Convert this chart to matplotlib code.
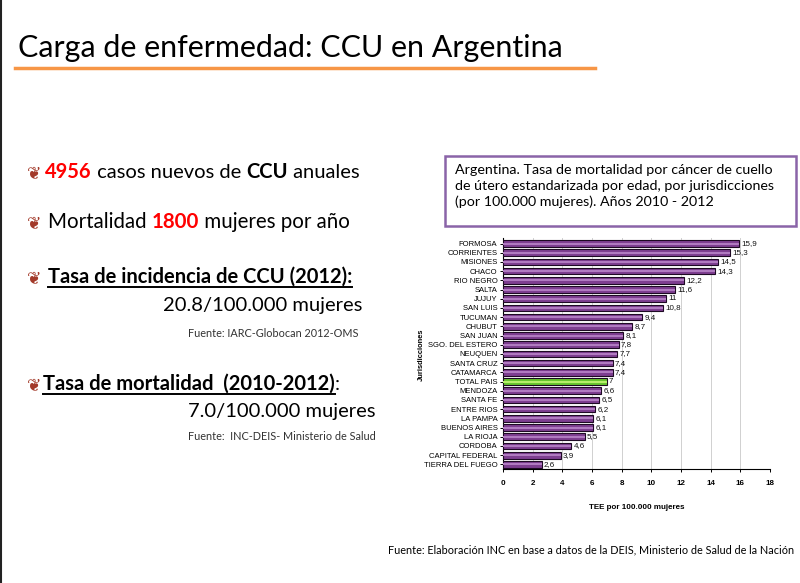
import matplotlib
matplotlib.use('Agg')
import matplotlib.pyplot as plt
from matplotlib.patches import Rectangle
from matplotlib.lines import Line2D

# ---- data ----
jurisdicciones = ['FORMOSA', 'CORRIENTES', 'MISIONES', 'CHACO', 'RIO NEGRO', 'SALTA',
                  'JUJUY', 'SAN LUIS', 'TUCUMAN', 'CHUBUT', 'SAN JUAN', 'SGO. DEL ESTERO',
                  'NEUQUEN', 'SANTA CRUZ', 'CATAMARCA', 'TOTAL PAIS', 'MENDOZA', 'SANTA FE',
                  'ENTRE RIOS', 'LA PAMPA', 'BUENOS AIRES', 'LA RIOJA', 'CORDOBA',
                  'CAPITAL FEDERAL', 'TIERRA DEL FUEGO']
tasas = [15.9, 15.3, 14.5, 14.3, 12.2, 11.6, 11.0, 10.8, 9.4, 8.7, 8.1, 7.8, 7.7,
         7.4, 7.4, 7.0, 6.6, 6.5, 6.2, 6.1, 6.1, 5.5, 4.6, 3.9, 2.6]
x_ticks = [0, 2, 4, 6, 8, 10, 12, 14, 16, 18]

SLIDE_FONT = ['Lato', 'DejaVu Sans']
CHART_FONT = ['Liberation Sans Narrow', 'Liberation Sans', 'DejaVu Sans']
RED = '#ff0000'
BULLET = '#a33a2a'
BODY = 14.5

fig = plt.figure(figsize=(8.0, 5.83), dpi=100)
fig.patch.set_facecolor('white')
W, H = 800, 583


def fx(px):
    return px / W


def fy(py):
    return 1 - py / H


# slide left border
fig.add_artist(Line2D([0.0015, 0.0015], [0, 1], color='#222222', lw=1.5))

# title + orange rule
fig.text(fx(18), fy(57), 'Carga de enfermedad: CCU en Argentina', fontsize=21.9,
         family=SLIDE_FONT, color='black', va='baseline')
fig.add_artist(Line2D([fx(15), fx(595)], [fy(68), fy(68)], color='#f79646', lw=2.5))

renderer = fig.canvas.get_renderer()


def runs(x_px, y_px, parts, size, underline=False):
    """Draw consecutive text runs [(text, color, weight), ...] on one baseline."""
    x = fx(x_px)
    y = fy(y_px)
    x0 = x
    for txt, col, wt in parts:
        t = fig.text(x, y, txt.replace(' ', '\u00a0'), fontsize=size, family=SLIDE_FONT,
                     color=col, fontweight=wt, va='baseline')
        bb = t.get_window_extent(renderer)
        x = x + bb.width / W
    if underline:
        fig.add_artist(Line2D([x0, x], [y - 3.5 / H, y - 3.5 / H], color='black', lw=1.4))
    return x


def bullet(x_px, y_px):
    fig.text(fx(x_px), fy(y_px), '\u2766', fontsize=12.5, color=BULLET,
             family=['DejaVu Sans'], va='baseline')


bullet(27, 178)
runs(45, 178, [('4956', RED, 'bold'), (' casos nuevos de ', 'black', 'normal'),
               ('CCU', 'black', 'bold'), (' anuales', 'black', 'normal')], BODY)
bullet(27, 228)
runs(48, 228, [('Mortalidad ', 'black', 'normal'), ('1800', RED, 'bold'),
               (' mujeres por año', 'black', 'normal')], BODY + 0.3)
bullet(27, 283)
runs(48, 283, [('Tasa de incidencia de CCU (2012):', 'black', 'bold')], BODY, underline=True)
fig.text(fx(362), fy(311), '20.8/100.000 mujeres', fontsize=BODY, family=SLIDE_FONT,
         ha='right', va='baseline')
fig.text(fx(358), fy(337), 'Fuente: IARC-Globocan 2012-OMS', fontsize=7.8,
         family=SLIDE_FONT, ha='right', va='baseline', color='#333333')
bullet(27, 390)
end = runs(43, 390, [('Tasa de mortalidad  (2010-2012)', 'black', 'bold')], BODY, underline=True)
fig.text(end, fy(390), ':', fontsize=BODY, family=SLIDE_FONT, va='baseline')
fig.text(fx(376), fy(417), '7.0/100.000 mujeres', fontsize=BODY, family=SLIDE_FONT,
         ha='right', va='baseline')
fig.text(fx(188), fy(440), 'Fuente:  INC-DEIS- Ministerio de Salud', fontsize=7.8,
         family=SLIDE_FONT, ha='left', va='baseline', color='#333333')

# chart title box
fig.add_artist(Rectangle((fx(445), fy(226)), fx(796) - fx(445), fy(156) - fy(226),
                         fill=False, edgecolor='#8a64a8', lw=1.8))
fig.text(fx(455), fy(164), 'Argentina. Tasa de mortalidad por cáncer de cuello\n'
         'de útero estandarizada por edad, por jurisdicciones\n'
         '(por 100.000 mujeres). Años 2010 - 2012',
         fontsize=10.3, family=SLIDE_FONT, va='top', linespacing=1.38)

# bottom source
fig.text(fx(794), fy(553), 'Fuente: Elaboración INC en base a datos de la DEIS, '
         'Ministerio de Salud de la Nación', fontsize=7.8, family=SLIDE_FONT,
         ha='right', va='baseline')

# ---- bar chart ----
ax = fig.add_axes([fx(503), fy(469), fx(770) - fx(503), fy(238) - fy(469)])
ypos = list(range(len(jurisdicciones)))
colors = ['#67c52e' if j == 'TOTAL PAIS' else '#7e3e90' for j in jurisdicciones]
ax.barh(ypos, tasas, height=0.72, color=colors, edgecolor='#1e0a24', linewidth=0.8,
        zorder=3)
# light highlight stripe to mimic the gradient fill
hl = ['#b6ee6a' if j == 'TOTAL PAIS' else '#b07ac0' for j in jurisdicciones]
ax.barh(ypos, tasas, height=0.22, color=hl, linewidth=0, zorder=4)
for y, v in zip(ypos, tasas):
    lab = ('%g' % v).replace('.', ',')
    ax.text(v + 0.15, y, lab, fontsize=5.8, family=CHART_FONT, va='center', ha='left',
            color='#111111')

ax.set_ylim(len(jurisdicciones) - 0.5, -0.6)
ax.set_xlim(0, 18)
ax.set_xticks(x_ticks)
ax.set_xticklabels([str(t) for t in x_ticks], fontsize=5.8, family=CHART_FONT,
                   fontweight='bold')
ax.set_yticks(ypos)
ax.set_yticklabels(jurisdicciones, fontsize=5.5, family=CHART_FONT)
ax.tick_params(axis='y', length=2, width=0.7, pad=2)
ax.tick_params(axis='x', length=2, width=0.7, pad=6)
ax.grid(axis='x', color='#d0d0d0', lw=0.7, zorder=0)
for s in ['top', 'right']:
    ax.spines[s].set_visible(False)
ax.spines['left'].set_linewidth(0.8)
ax.spines['bottom'].set_linewidth(0.8)
ax.set_xlabel('TEE por 100.000 mujeres', fontsize=5.8, family=CHART_FONT,
              fontweight='bold', labelpad=12)
fig.text(fx(421), fy(355), 'Jurisdicciones', rotation=90, fontsize=5.4,
         family=CHART_FONT, fontweight='bold', ha='center', va='center')

fig.savefig('out.png', dpi=100, facecolor='white')
